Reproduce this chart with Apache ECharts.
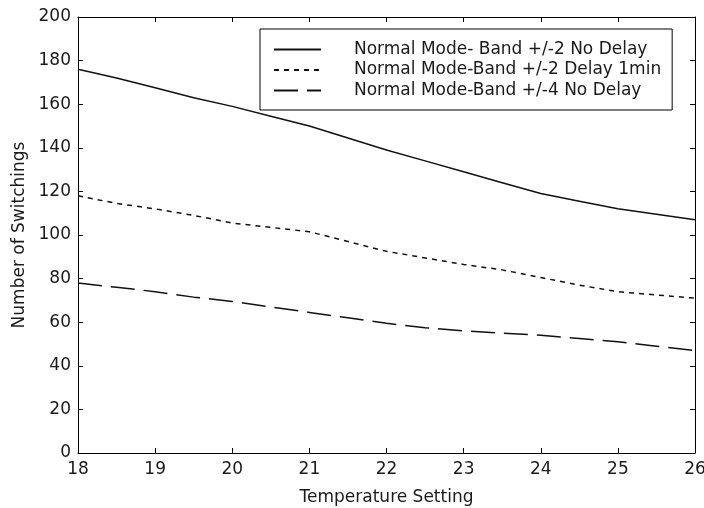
<!DOCTYPE html>
<html>
<head>
<meta charset="utf-8">
<script src="https://cdn.jsdelivr.net/npm/echarts@6/dist/echarts.min.js"></script>
<style>
  html, body { margin: 0; padding: 0; background: #fff; }
  #main { width: 704px; height: 508px; }
</style>
</head>
<body>
<div id="main"></div>
<script>
// temperature settings (x)
var temps = [18, 18.5, 19, 19.5, 20, 20.5, 21, 21.5, 22, 22.5, 23, 23.5, 24, 24.5, 25, 25.5, 26];
// number of switchings
var bandTwoNoDelay = [176, 172, 167.5, 163, 159, 154.5, 150, 144.5, 139, 134, 129, 124, 119, 115.5, 112, 109.5, 107];
var bandTwoDelay1min = [118, 114.5, 112, 109, 105.5, 103.5, 101.5, 97, 92.5, 89.5, 86.5, 84, 80.5, 77, 74, 72.5, 71];
var bandFourNoDelay = [78, 76, 74, 71.5, 69.5, 67, 64.5, 62, 59.5, 57.5, 56, 55, 54, 52.5, 51, 49, 47];
var seriesNames = [
  'Normal Mode- Band +/-2 No Delay',
  'Normal Mode-Band +/-2 Delay 1min',
  'Normal Mode-Band +/-4 No Delay'
];

function pairs(ys) {
  return temps.map(function (t, i) { return [t, ys[i]]; });
}

var font = 'DejaVu Sans';
var txt = '#1a1a1a';

var myChart = echarts.init(document.getElementById('main'));

var baseX = {
  type: 'value', min: 18, max: 26, interval: 1,
  axisLine: { show: true, onZero: false, lineStyle: { color: '#000', width: 1 } },
  axisTick: { show: true, inside: true, length: 5, lineStyle: { color: '#000' } },
  splitLine: { show: false }
};
var baseY = {
  type: 'value', min: 0, max: 200, interval: 20,
  axisLine: { show: true, onZero: false, lineStyle: { color: '#000', width: 1 } },
  axisTick: { show: true, inside: true, length: 5, lineStyle: { color: '#000' } },
  splitLine: { show: false }
};

var option = {
  animation: false,
  backgroundColor: '#fff',
  color: ['#111', '#111', '#111'],
  textStyle: { fontFamily: font },
  grid: { left: 78, right: 9, top: 17, bottom: 55, outerBoundsMode: 'none' },
  legend: {
    orient: 'vertical',
    left: 260,
    top: 29,
    padding: [12, 11, 11, 13],
    borderColor: '#000',
    borderWidth: 1,
    itemWidth: 47,
    itemHeight: 14,
    itemGap: 3.5,
    itemStyle: { opacity: 0 },
    data: seriesNames,
    textStyle: { fontFamily: font, fontSize: 17, color: txt, padding: [0, 0, 0, 28] }
  },
  xAxis: [
    Object.assign({}, baseX, {
      position: 'bottom',
      name: 'Temperature Setting',
      nameLocation: 'middle',
      nameGap: 36,
      nameTextStyle: { fontFamily: font, fontSize: 17, color: txt },
      axisLabel: { fontFamily: font, fontSize: 17, color: txt, margin: 8 }
    }),
    Object.assign({}, baseX, { position: 'top', axisLabel: { show: false } })
  ],
  yAxis: [
    Object.assign({}, baseY, {
      position: 'left',
      name: 'Number of Switchings',
      nameLocation: 'middle',
      nameGap: 50,
      nameTextStyle: { fontFamily: font, fontSize: 17, color: txt },
      axisLabel: { fontFamily: font, fontSize: 17, color: txt, margin: 7 }
    }),
    Object.assign({}, baseY, { position: 'right', axisLabel: { show: false } })
  ],
  series: [
    {
      name: seriesNames[0], type: 'line', symbol: 'none',
      lineStyle: { color: '#111', width: 1.5, type: 'solid' },
      data: pairs(bandTwoNoDelay)
    },
    {
      name: seriesNames[1], type: 'line', symbol: 'none',
      lineStyle: { color: '#111', width: 1.5, type: [5, 5] },
      data: pairs(bandTwoDelay1min)
    },
    {
      name: seriesNames[2], type: 'line', symbol: 'none',
      lineStyle: { color: '#111', width: 1.5, type: [24, 9] },
      data: pairs(bandFourNoDelay)
    }
  ]
};

myChart.setOption(option);
</script>
</body>
</html>
